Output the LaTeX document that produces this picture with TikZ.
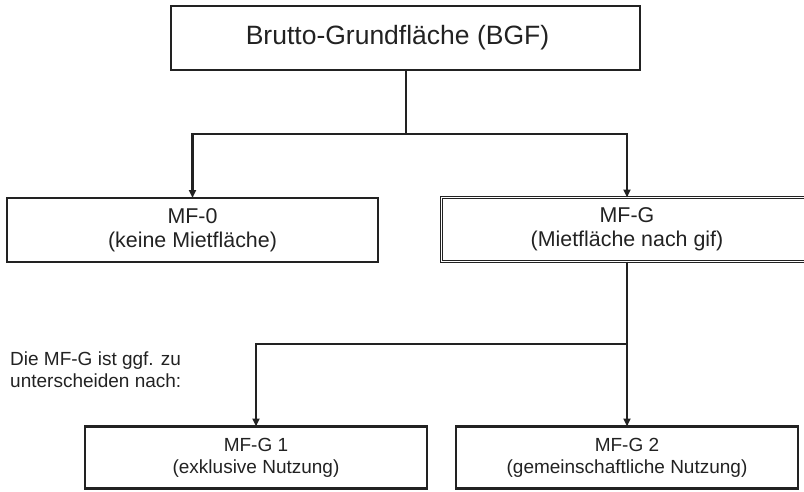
\documentclass[tikz,border=0pt]{standalone}
\usepackage{fontspec}
\setmainfont{Liberation Sans}
\usetikzlibrary{arrows.meta}
\definecolor{ink}{HTML}{222222}
\begin{document}
\begin{tikzpicture}[x=1pt,y=-1pt,
  box/.style={draw=ink,text=ink,rectangle,inner sep=0pt,outer sep=0pt,align=center},
  conn/.style={draw=ink,line width=2.4pt},
  arr/.style={conn,-{Triangle[width=7pt,length=8pt]}}]
\useasboundingbox (0,0) rectangle (804,491);
\begin{scope}
\clip (0,0) rectangle (804,491);
\node[box,line width=1.5pt,minimum width=469pt,minimum height=64pt,font=\fontsize{26.5}{30}\selectfont] (top) at (405.5,38) {\hspace*{-16pt}Brutto-Grundfläche (BGF)};
\node[box,line width=1.3pt,minimum width=371pt,minimum height=64pt,font=\fontsize{21.4}{24}\selectfont] (mf0) at (192.5,230) {MF-0\\(keine Mietfläche)};
\node[box,line width=0.9pt,double=white,double distance=1.6pt,minimum width=371pt,minimum height=64pt,font=\fontsize{21.4}{24}\selectfont] (mfg) at (627,229.5) {MF-G\\(Mietfläche nach gif)};
\node[box,line width=2.4pt,minimum width=342pt,minimum height=62pt,font=\fontsize{19}{22}\selectfont] (g1) at (256,457.5) {MF-G 1\\(exklusive Nutzung)};
\node[box,line width=2.4pt,minimum width=342pt,minimum height=62pt,font=\fontsize{19}{22}\selectfont] (g2) at (627,457.5) {MF-G 2\\(gemeinschaftliche Nutzung)};
\node[text=ink,anchor=north west,align=left,inner sep=0pt,font=\fontsize{19}{22}\selectfont] (note) at (10,352) {Die MF-G ist ggf. zu\\unterscheiden nach:};
\coordinate (j1) at (406,134);
\coordinate (j2) at (627,344);
\draw[conn] (top.south -| j1) -- (j1);
\draw[arr] (j1) -| (mf0.north);
\draw[arr] (j1) -| (mfg.north);
\draw[conn] (mfg.south) -- (j2);
\draw[arr] (j2) -| (g1.north);
\draw[arr] (j2) -- (g2.north);
\end{scope}
\end{tikzpicture}
\end{document}
